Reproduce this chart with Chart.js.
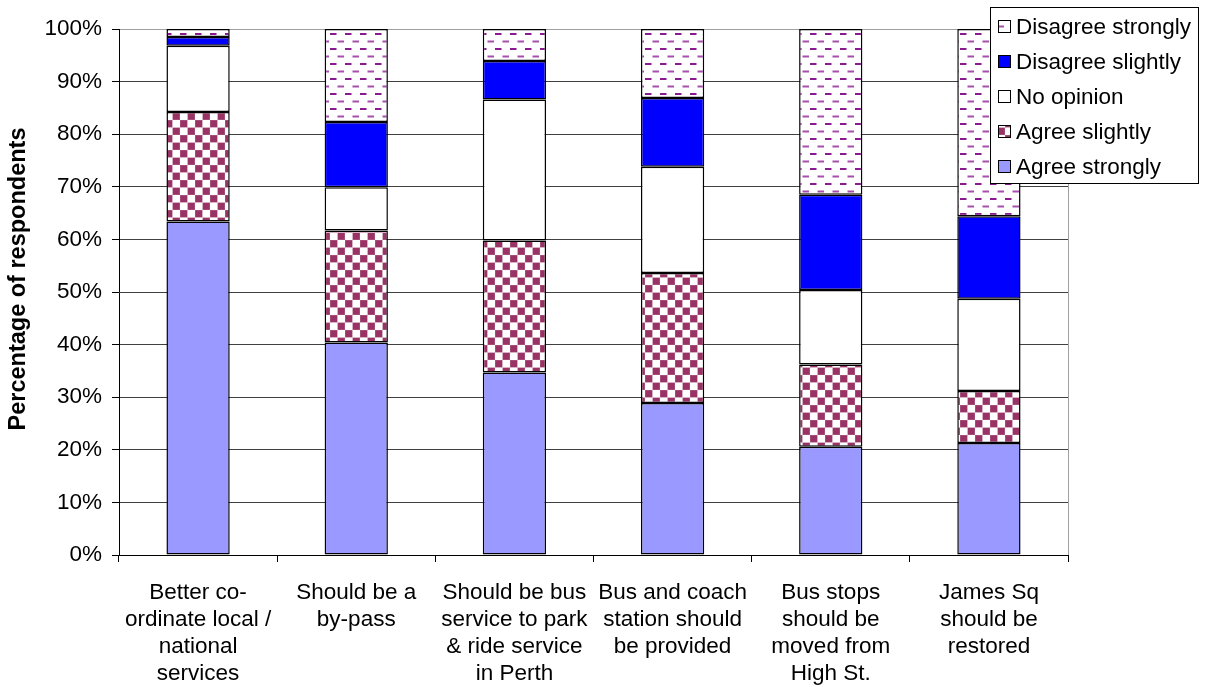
<!DOCTYPE html>
<html>
<head>
<meta charset="utf-8">
<script src="https://cdn.jsdelivr.net/npm/chart.js@4/dist/chart.umd.min.js"></script>
<style>
  html, body { margin: 0; padding: 0; background: #ffffff; }
  #wrap { width: 1205px; height: 687px; }
</style>
</head>
<body>
<div id="wrap"><canvas id="c" width="1205" height="687"></canvas></div>
<script>
// Survey statements (x-axis categories, one line per array entry)
const categories = [
  ["Better co-", "ordinate local /", "national", "services"],
  ["Should be a", "by-pass"],
  ["Should be bus", "service to park", "& ride service", "in Perth"],
  ["Bus and coach", "station should", "be provided"],
  ["Bus stops", "should be", "moved from", "High St."],
  ["James Sq", "should be", "restored"]
];

// Share of respondents (%) for each answer
const agreeStrongly    = [63.4, 40.4, 34.7, 28.9, 20.6, 21.3];
const agreeSlightly    = [20.8, 21.3, 25.1, 24.7, 15.6,  9.9];
const noOpinion        = [12.6,  8.2, 26.8, 20.2, 14.2, 17.5];
const disagreeSlightly = [ 1.7, 12.4,  7.3, 13.1, 18.1, 15.7];
const disagreeStrongly = [ 1.5, 17.7,  6.1, 13.1, 31.5, 35.6];

const seriesNames = ["Agree strongly", "Agree slightly", "No opinion", "Disagree slightly", "Disagree strongly"];
const yTicks = [0, 10, 20, 30, 40, 50, 60, 70, 80, 90, 100];
const yTitle = 'Percentage of respondents';

Chart.defaults.font.family = "'Liberation Sans', Arial, sans-serif";
Chart.defaults.color = '#000';

// Checkerboard fill (maroon on white)
function checkerPattern() {
  const c = document.createElement('canvas');
  c.width = 15; c.height = 15;
  const g = c.getContext('2d');
  g.fillStyle = '#ffffff';
  g.fillRect(0, 0, 15, 15);
  g.fillStyle = '#b0648a';
  g.fillRect(0, 0, 7.5, 7.5);
  g.fillRect(7.5, 7.5, 7.5, 7.5);
  g.fillStyle = '#993366';
  g.fillRect(0.5, 0.5, 6.5, 6.5);
  g.fillRect(8, 8, 6.5, 6.5);
  return g.createPattern(c, 'repeat');
}

// Staggered horizontal dashes (purple on white)
function dashPattern() {
  const c = document.createElement('canvas');
  c.width = 15; c.height = 15;
  const g = c.getContext('2d');
  g.fillStyle = '#ffffff';
  g.fillRect(0, 0, 15, 15);
  g.fillStyle = '#8a1a90';
  g.fillRect(0, 3, 6.5, 2);
  g.fillStyle = '#a64fac';
  g.fillRect(7.5, 10.5, 6.5, 2);
  return g.createPattern(c, 'repeat');
}

const fills = ['#9999ff', checkerPattern(), '#ffffff', '#0000ff', dashPattern()];
const values = [agreeStrongly, agreeSlightly, noOpinion, disagreeSlightly, disagreeStrongly];

const datasets = seriesNames.map((name, i) => ({
  label: name,
  data: values[i],
  backgroundColor: fills[i],
  borderColor: '#000',
  borderWidth: 1.5,
  borderSkipped: false,
  barPercentage: 0.4,
  categoryPercentage: 1.0
}));

// Plot-area frame on the right side, plus the rotated value-axis title
const plotFrame = {
  id: 'plotFrame',
  beforeDatasetsDraw(chart) {
    const { ctx, chartArea: a } = chart;
    ctx.save();
    ctx.strokeStyle = '#a0a0a0';
    ctx.lineWidth = 1;
    ctx.beginPath();
    ctx.moveTo(Math.round(a.right) + 0.5, a.top);
    ctx.lineTo(Math.round(a.right) + 0.5, a.bottom);
    ctx.stroke();
    ctx.translate(19, 279);
    ctx.rotate(-Math.PI / 2);
    ctx.font = "bold 23.5px 'Liberation Sans', Arial, sans-serif";
    ctx.fillStyle = '#000';
    ctx.textAlign = 'center';
    ctx.textBaseline = 'middle';
    ctx.fillText(yTitle, 0, 0);
    ctx.restore();
  }
};

// Boxed legend, listed top-down in reverse stacking order
const boxedLegend = {
  id: 'boxedLegend',
  afterDraw(chart) {
    const ctx = chart.ctx;
    const bx = 990.5, by = 7.5, bw = 208, bh = 176;
    ctx.save();
    ctx.fillStyle = '#ffffff';
    ctx.fillRect(bx, by, bw, bh);
    ctx.strokeStyle = '#000';
    ctx.lineWidth = 1;
    ctx.strokeRect(bx, by, bw, bh);
    const list = chart.data.datasets.slice().reverse();
    ctx.font = "22.5px 'Liberation Sans', Arial, sans-serif";
    ctx.textBaseline = 'middle';
    ctx.textAlign = 'left';
    list.forEach((d, i) => {
      const cy = 27 + i * 35;
      ctx.fillStyle = d.backgroundColor;
      ctx.fillRect(998.5, cy - 6.5, 12, 12);
      ctx.strokeStyle = '#000';
      ctx.strokeRect(998.5, cy - 6.5, 12, 12);
      ctx.fillStyle = '#000';
      ctx.fillText(d.label, 1016, cy + 1);
    });
    ctx.restore();
  }
};

new Chart(document.getElementById('c'), {
  type: 'bar',
  data: { labels: categories, datasets },
  options: {
    responsive: false,
    animation: false,
    layout: { padding: { top: 29, right: 137, left: 0, bottom: 0 } },
    plugins: {
      legend: { display: false },
      tooltip: { enabled: false }
    },
    scales: {
      x: {
        stacked: true,
        afterFit(scale) { scale.height = 132; },
        grid: {
          offset: true,
          drawOnChartArea: false,
          drawTicks: true,
          tickLength: 7,
          tickColor: '#000'
        },
        border: { color: '#000', width: 1 },
        ticks: {
          color: '#000',
          padding: 17,
          maxRotation: 0,
          autoSkip: false,
          font: { size: 22.5, lineHeight: 1.2 }
        }
      },
      y: {
        stacked: true,
        min: 0,
        max: 100,
        afterFit(scale) { scale.width = 119; },
        afterBuildTicks(scale) { scale.ticks = yTicks.map(v => ({ value: v })); },
        grid: {
          color: ctx => (ctx.tick && ctx.tick.value === 100) ? '#a0a0a0' : '#404040',
          lineWidth: 1,
          drawTicks: true,
          tickLength: 7,
          tickColor: '#000'
        },
        border: { color: '#000', width: 1 },
        ticks: {
          color: '#000',
          padding: 10,
          font: { size: 22.5 },
          callback: v => v + '%'
        }
      }
    }
  },
  plugins: [plotFrame, boxedLegend]
});
</script>
</body>
</html>
